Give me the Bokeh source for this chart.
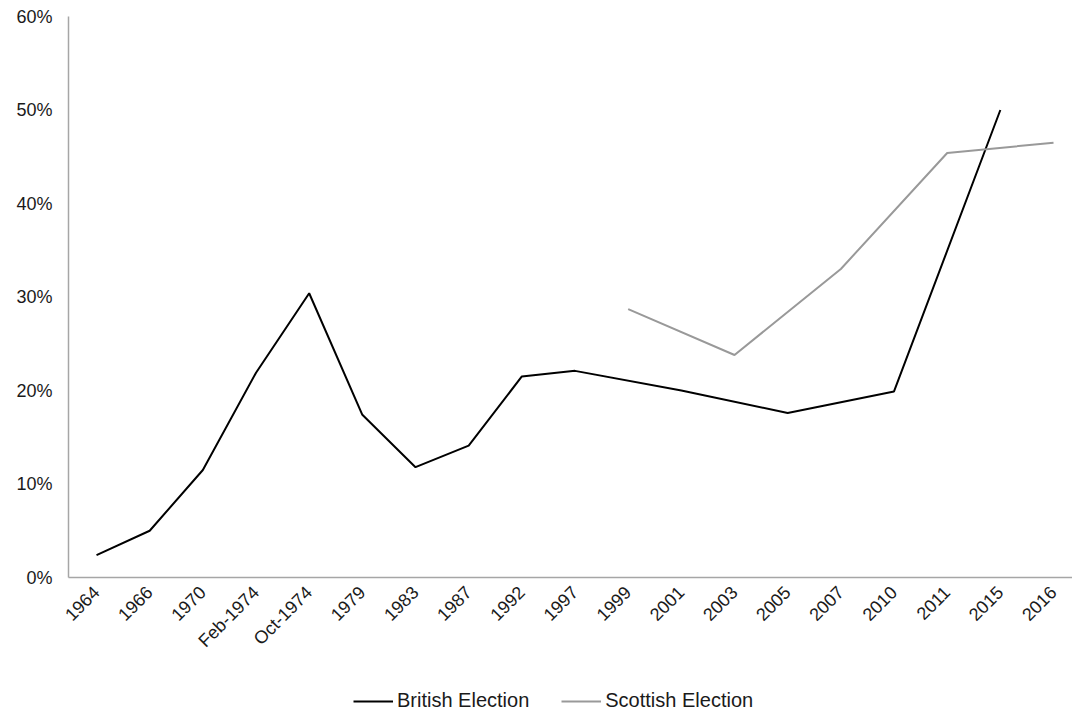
import math
from bokeh.plotting import figure
from bokeh.layouts import column
from bokeh.models import Range1d, FixedTicker, NumeralTickFormatter, Legend, LegendItem, ColumnDataSource
from bokeh.embed import file_html
from bokeh.resources import INLINE

categories = ["1964", "1966", "1970", "Feb-1974", "Oct-1974", "1979", "1983", "1987", "1992", "1997",
              "1999", "2001", "2003", "2005", "2007", "2010", "2011", "2015", "2016"]
british = [0.024, 0.050, 0.115, 0.219, 0.304, 0.174, 0.118, 0.141, 0.215, 0.221,
           None, 0.200, None, 0.176, None, 0.199, None, 0.500, None]
scottish = [None, None, None, None, None, None, None, None, None, None,
            0.287, None, 0.238, None, 0.330, None, 0.454, None, 0.465]
series_names = ["British Election", "Scottish Election"]
series_colors = ["#000000", "#999999"]
y_ticks = [0, 0.1, 0.2, 0.3, 0.4, 0.5, 0.6]

def series(vals):
    xs = [i for i, v in enumerate(vals) if v is not None]
    ys = [v for v in vals if v is not None]
    return ColumnDataSource(data=dict(x=xs, y=ys))

FONT = "Liberation Sans"
p = figure(width=1072, height=680, output_backend="svg", toolbar_location=None,
           x_range=Range1d(-0.527, 18.357), y_range=Range1d(0, 0.6),
           min_border_left=68, min_border_right=0, min_border_top=16, min_border_bottom=103)
p.outline_line_color = None
p.grid.grid_line_color = None

p.line("x", "y", source=series(british), line_color=series_colors[0], line_width=2)
p.line("x", "y", source=series(scottish), line_color=series_colors[1], line_width=2)

p.xaxis.ticker = FixedTicker(ticks=list(range(len(categories))))
p.xaxis.major_label_overrides = {i: c for i, c in enumerate(categories)}
p.xaxis.major_label_orientation = math.pi / 4
p.yaxis.ticker = FixedTicker(ticks=y_ticks)
p.yaxis.formatter = NumeralTickFormatter(format="0%")
for ax in (p.xaxis, p.yaxis):
    ax.axis_line_color = "#a6a6a6"
    ax.axis_line_width = 1.5
    ax.major_tick_line_color = None
    ax.minor_tick_line_color = None
    ax.major_label_text_font = FONT
    ax.major_label_text_font_size = "18px"
    ax.major_label_text_color = "#1a1a1a"
p.yaxis.major_label_standoff = 10
p.xaxis.major_label_standoff = 6

# legend strip below the chart
lg = figure(width=1072, height=34, output_backend="svg", toolbar_location=None,
            x_range=Range1d(0, 1), y_range=Range1d(0, 1),
            min_border=0, x_axis_type=None, y_axis_type=None)
lg.outline_line_color = None
lg.grid.grid_line_color = None
items = []
for name, col in zip(series_names, series_colors):
    r = lg.line(x=[float("nan")], y=[float("nan")], line_color=col, line_width=2)
    items.append(LegendItem(label=name, renderers=[r]))
legend = Legend(items=items, orientation="horizontal", location=(285, 2),
                label_text_font=FONT, label_text_font_size="20px", label_text_color="#1a1a1a",
                glyph_width=40, label_standoff=4, spacing=32, border_line_color=None,
                background_fill_alpha=0, margin=0, padding=0)
lg.add_layout(legend, "center")

open("out.html", "w").write(file_html(column(p, lg, spacing=0), INLINE))
